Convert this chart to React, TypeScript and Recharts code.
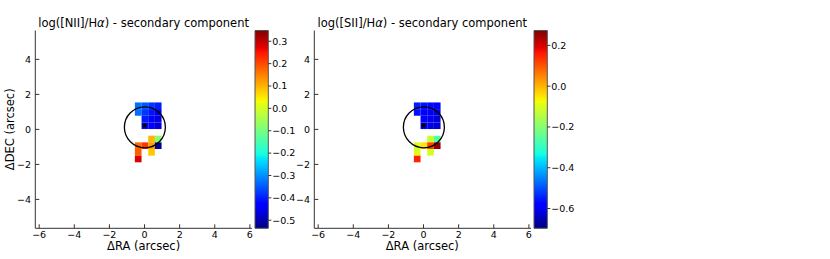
import React from 'react';
import { ComposedChart, XAxis, YAxis, ReferenceArea, ReferenceDot, Scatter } from 'recharts';

const xTicks = [-6, -4, -2, 0, 2, 4, 6];
const yTicks = [-4, -2, 0, 2, 4];
const xDomain = [-6.22, 6.12];
const yDomain = [-5.65, 5.65];

// spaxel grid (arcsec)
const CELL = 0.38;
const colX = [-0.36, 0.02, 0.4, 0.78];
const rowY = [1.35, 0.97, 0.59, 0.21, -0.17, -0.55, -0.93, -1.31, -1.69];
const cellCol = [0, 1, 2, 3, 0, 1, 2, 3, 1, 2, 3, 1, 2, 3, 2, 3, 0, 1, 2, 3, 0, 2, 0];
const cellRow = [0, 0, 0, 0, 1, 1, 1, 1, 2, 2, 2, 3, 3, 3, 5, 5, 6, 6, 6, 6, 7, 7, 8];

const niiValues = [
  -0.33, -0.35, -0.38, -0.4, -0.33, -0.38, -0.41, -0.46, -0.4, -0.43, -0.46, -0.42, -0.44, -0.47,
  0.1, -0.08, 0.17, 0.22, 0.12, -0.52, 0.18, 0.08, 0.28,
];
const siiValues = [
  -0.55, -0.56, -0.57, -0.58, -0.56, -0.58, -0.6, -0.62, -0.58, -0.6, -0.62, -0.59, -0.61, -0.63,
  -0.12, -0.26, -0.1, -0.05, 0.12, 0.26, -0.1, -0.11, 0.15,
];

const niiRange = [-0.536, 0.348];
const siiRange = [-0.697, 0.273];
const niiTicks = [0.3, 0.2, 0.1, 0, -0.1, -0.2, -0.3, -0.4, -0.5];
const siiTicks = [0.2, 0, -0.2, -0.4, -0.6];

const centerMark = [{ x: 0.0, y: 0.23 }];
const aperture = { x: 0.02, y: 0.12 };

// matplotlib jet segments
const jetR = [[0, 0], [0.35, 0], [0.66, 1], [0.89, 1], [1, 0.5]];
const jetG = [[0, 0], [0.125, 0], [0.375, 1], [0.64, 1], [0.91, 0], [1, 0]];
const jetB = [[0, 0.5], [0.11, 1], [0.34, 1], [0.65, 0], [1, 0]];

function seg(pts: number[][], t: number) {
  for (let i = 1; i < pts.length; i++) {
    if (t <= pts[i][0]) {
      const [x0, y0] = pts[i - 1];
      const [x1, y1] = pts[i];
      return y0 + ((t - x0) / (x1 - x0)) * (y1 - y0);
    }
  }
  return pts[pts.length - 1][1];
}

function jet(t: number) {
  const c = Math.max(0, Math.min(1, t));
  const h = (v: number) => Math.round(v * 255).toString(16).padStart(2, '0');
  return '#' + h(seg(jetR, c)) + h(seg(jetG, c)) + h(seg(jetB, c));
}

const fmtTick = (v: number) => (v < 0 ? '\u2212' : '') + Math.abs(v);
const fmtCbar = (v: number) => (v < 0 ? '\u2212' : '') + Math.abs(v).toFixed(1);

const FONT = 'DejaVu Sans';
const tickStyle = { fontSize: 9.5, fill: '#000', fontFamily: FONT };
const spine = { stroke: '#333', strokeWidth: 1 };
const noDot = () => <g />;

function MapPanel({ left, values, range }: { left: number; values: number[]; range: number[] }) {
  return (
    <div style={{ position: 'absolute', left, top: 0 }}>
      <ComposedChart width={260} height={259} margin={{ top: 30.5, right: 8, left: 5.3, bottom: 0.7 }}>
        <XAxis
          type="number"
          dataKey="x"
          domain={xDomain}
          ticks={xTicks}
          interval={0}
          allowDataOverflow
          height={30}
          tickSize={-4}
          tickMargin={6.8}
          tickFormatter={fmtTick}
          tick={tickStyle}
          axisLine={spine}
          tickLine={spine}
        />
        <XAxis
          xAxisId="top"
          orientation="top"
          type="number"
          dataKey="x"
          domain={xDomain}
          ticks={xTicks}
          interval={0}
          allowDataOverflow
          height={0}
          tickSize={-4}
          tick={false}
          axisLine={spine}
          tickLine={spine}
        />
        <YAxis
          type="number"
          dataKey="y"
          domain={yDomain}
          ticks={yTicks}
          interval={0}
          allowDataOverflow
          width={30}
          tickSize={-4}
          tickMargin={8.2}
          tickFormatter={fmtTick}
          tick={tickStyle}
          axisLine={spine}
          tickLine={spine}
        />
        <YAxis
          yAxisId="right"
          orientation="right"
          type="number"
          dataKey="y"
          domain={yDomain}
          ticks={yTicks}
          interval={0}
          allowDataOverflow
          width={0}
          tickSize={-4}
          tick={false}
          axisLine={spine}
          tickLine={spine}
        />
        {values.map((v, i) => (
          <ReferenceArea
            key={i}
            x1={colX[cellCol[i]] - CELL / 2}
            x2={colX[cellCol[i]] + CELL / 2}
            y1={rowY[cellRow[i]] - CELL / 2}
            y2={rowY[cellRow[i]] + CELL / 2}
            fill={jet((v - range[0]) / (range[1] - range[0]))}
            fillOpacity={1}
            stroke="none"
            ifOverflow="visible"
          />
        ))}
        <Scatter
          data={centerMark}
          isAnimationActive={false}
          shape={(p: any) => <rect x={p.cx - 2} y={p.cy - 2} width={4} height={4} fill="#000" />}
        />
        <Scatter
          xAxisId="top"
          yAxisId="right"
          data={centerMark}
          isAnimationActive={false}
          shape={noDot}
        />
        <ReferenceDot
          x={aperture.x}
          y={aperture.y}
          r={20.5}
          fill="none"
          stroke="#000"
          strokeWidth={1.3}
          ifOverflow="visible"
        />
      </ComposedChart>
    </div>
  );
}

function ColorBar({ left, id, range, ticks }: { left: number; id: string; range: number[]; ticks: number[] }) {
  const stops = [0, 0.11, 0.125, 0.34, 0.35, 0.375, 0.64, 0.65, 0.66, 0.89, 0.91, 1];
  const anchor = [{ x: 0.5, y: range[0] }];
  return (
    <div style={{ position: 'absolute', left, top: 0 }}>
      <ComposedChart width={60} height={259} margin={{ top: 30.5, right: 0, left: 15, bottom: 30.7 }}>
        <defs>
          <linearGradient id={id} x1="0" y1="1" x2="0" y2="0">
            {stops.map((t) => (
              <stop key={t} offset={t} stopColor={jet(t)} />
            ))}
          </linearGradient>
        </defs>
        <XAxis type="number" dataKey="x" domain={[0, 1]} allowDataOverflow hide />
        <YAxis
          orientation="right"
          type="number"
          dataKey="y"
          domain={range}
          ticks={ticks}
          interval={0}
          allowDataOverflow
          width={31.7}
          tickSize={3}
          tickMargin={1}
          tickFormatter={fmtCbar}
          tick={tickStyle}
          axisLine={false}
          tickLine={spine}
        />
        <Scatter data={anchor} isAnimationActive={false} shape={noDot} />
        <ReferenceArea
          x1={0}
          x2={1}
          y1={range[0]}
          y2={range[1]}
          fill={`url(#${id})`}
          fillOpacity={1}
          stroke="#555"
          strokeWidth={1}
          ifOverflow="visible"
        />
      </ComposedChart>
    </div>
  );
}

const SHIFT = 278.7;

export default function App() {
  return (
    <div style={{ position: 'absolute', left: 0, top: 0, width: 830, height: 259, background: '#fff', fontFamily: FONT }}>
      <MapPanel left={0} values={niiValues} range={niiRange} />
      <ColorBar left={240} id="jetNII" range={niiRange} ticks={niiTicks} />
      <MapPanel left={SHIFT} values={siiValues} range={siiRange} />
      <ColorBar left={240 + SHIFT} id="jetSII" range={siiRange} ticks={siiTicks} />
      <svg width={830} height={259} style={{ position: 'absolute', left: 0, top: 0, pointerEvents: 'none' }}>
        <g fontFamily={FONT} fontSize={11.5} fill="#000">
          <text x={143.6} y={26.7} textAnchor="middle">
            log([NII]/H<tspan fontStyle="italic">α</tspan>) - secondary component
          </text>
          <text x={143.6 + SHIFT} y={26.7} textAnchor="middle">
            log([SII]/H<tspan fontStyle="italic">α</tspan>) - secondary component
          </text>
          <text x={143.6} y={250} textAnchor="middle">ΔRA (arcsec)</text>
          <text x={143.6 + SHIFT} y={250} textAnchor="middle">ΔRA (arcsec)</text>
          <text x={14} y={129.3} textAnchor="middle" transform="rotate(-90 14 129.3)">ΔDEC (arcsec)</text>
        </g>
      </svg>
    </div>
  );
}
